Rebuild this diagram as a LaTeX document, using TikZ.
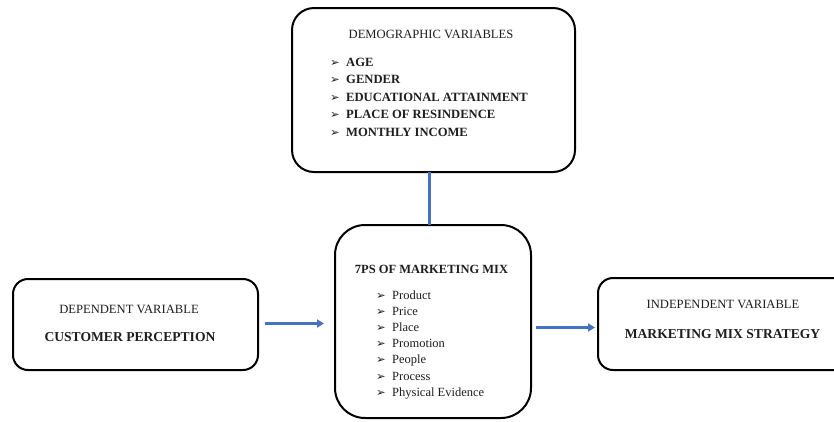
\documentclass[tikz,border=0pt]{standalone}
\usepackage{fontspec}
\setmainfont{Liberation Serif}
\newfontfamily\bulfont{DejaVu Sans}
\usetikzlibrary{arrows.meta}
\definecolor{linkblue}{RGB}{68,114,196}
\definecolor{txt}{RGB}{30,30,30}
\newcommand{\bul}{\makebox[16pt][l]{\bulfont\bfseries\fontsize{11.5}{11}\selectfont ➢}}
\begin{document}
\begin{tikzpicture}[x=1pt,y=-1pt,
  box/.style={draw=black, line width=2pt, rounded corners=#1, inner sep=0pt, outer sep=0pt, fill=white},
  head/.style={inner sep=0pt, anchor=base, text=txt, font=\fontsize{12.6}{14}\selectfont},
  bighead/.style={inner sep=0pt, anchor=base, text=txt, font=\bfseries\fontsize{13.6}{15}\selectfont},
  item/.style={inner sep=0pt, anchor=base west, text=txt, font=\fontsize{12.5}{14}\selectfont},
  link/.style={draw=linkblue, line width=3pt},
  arr/.style={link, -{Triangle[length=7pt,width=8pt]}}]
\useasboundingbox (0,0) rectangle (834,421);
\clip (0,0) rectangle (834,421);
% boxes
\node[box=22pt, minimum width=283pt, minimum height=164pt] (demo) at (433.5,90) {};
\node[box=30pt, minimum width=196pt, minimum height=193pt] (mix) at (433,321.5) {};
\node[box=15pt, minimum width=245pt, minimum height=91pt] (dep) at (135.5,324.5) {};
\node[box=15pt, minimum width=252pt, minimum height=92pt] (ind) at (724,324) {};
% connectors
\draw[link] ([xshift=-4pt]demo.south) -- ([xshift=-4pt]demo.south |- mix.north);
\draw[arr, shorten <=7pt, shorten >=11pt] ([yshift=1pt]dep.east) -- ([yshift=1pt]dep.east -| mix.west);
\draw[arr, shorten <=5pt, shorten >=3pt] ([yshift=-6pt]mix.east) -- ([yshift=-6pt]mix.east -| ind.west);
% texts
\node[head] (demoh) at (431,38) {DEMOGRAPHIC VARIABLES};
\foreach \t [count=\i] in {AGE, GENDER, EDUCATIONAL ATTAINMENT, PLACE OF RESINDENCE, MONTHLY INCOME}
  \node[item, font=\bfseries\fontsize{12.6}{14}\selectfont] (d\i) at (330,{66+17.5*(\i-1)}) {\bul\t};
\node[head, font=\bfseries\fontsize{12.5}{14}\selectfont] (mixh) at (431.5,273) {7PS OF MARKETING MIX};
\foreach \t [count=\i] in {Product, Price, Place, Promotion, People, Process, Physical Evidence}
  \node[item] (m\i) at (376,{299+16.2*(\i-1)}) {\bul\t};
\node[head] (deph) at (129,313) {DEPENDENT VARIABLE};
\node[bighead] (depb) at (130,341) {CUSTOMER PERCEPTION};
\node[head] (indh) at (723,308) {INDEPENDENT VARIABLE};
\node[bighead] (indb) at (722.5,338) {MARKETING MIX STRATEGY};
\end{tikzpicture}
\end{document}
